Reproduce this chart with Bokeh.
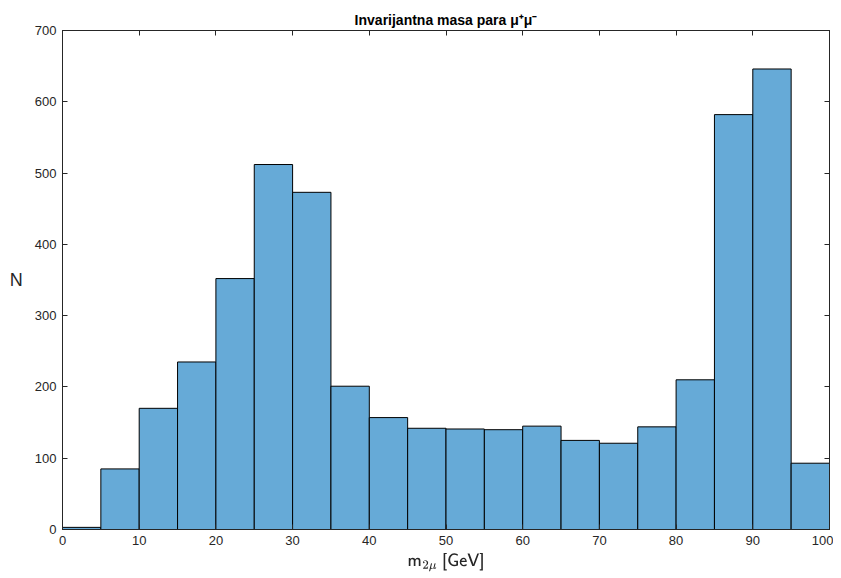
from bokeh.plotting import figure
from bokeh.models import Range1d, LinearAxis, FixedTicker, TeX
from bokeh.embed import file_html
from bokeh.resources import INLINE

bin_edges = list(range(0, 105, 5))
counts = [3, 85, 170, 235, 352, 512, 473, 201, 157, 142, 141, 140, 145, 125, 121, 144, 210, 582, 646, 93]
x_ticks = list(range(0, 110, 10))
y_ticks = list(range(0, 800, 100))

AX = "#262626"
FONT = "Liberation Sans"

p = figure(frame_width=767, frame_height=499, output_backend="svg", toolbar_location=None,
           x_range=Range1d(0, 100), y_range=Range1d(0, 700),
           min_border_left=62, min_border_right=4, min_border_top=30, min_border_bottom=41,
           x_axis_location=None, y_axis_location=None)

p.quad(left=bin_edges[:-1], right=bin_edges[1:], bottom=0, top=counts,
       fill_color="#66AAD7", line_color="black", line_width=1)

p.grid.visible = False
p.outline_line_color = AX
p.outline_line_width = 1

def mk_axis(ticks, show_labels):
    a = LinearAxis(ticker=FixedTicker(ticks=ticks))
    a.major_tick_in = 5
    a.major_tick_out = 0
    a.minor_tick_line_color = None
    a.axis_line_color = AX
    a.major_tick_line_color = AX
    a.major_label_text_color = AX
    a.major_label_text_font = FONT
    a.major_label_text_font_size = "13px"
    a.axis_label_text_font = FONT
    a.axis_label_text_font_style = "normal"
    a.axis_label_text_color = AX
    if not show_labels:
        a.major_label_text_font_size = "0px"
        a.major_label_text_alpha = 0
        a.major_label_standoff = 0
    return a

xb = mk_axis(x_ticks, True)
xb.axis_label = TeX(text=r"\mathsf{m}_{2\mu}\ \mathsf{[GeV]}")
xb.axis_label_text_font_size = "14px"
xb.axis_label_standoff = 5
xb.major_label_standoff = 6
p.add_layout(xb, "below")

yl = mk_axis(y_ticks, True)
yl.axis_label = "N"
yl.axis_label_orientation = "horizontal"
yl.axis_label_text_font_size = "18px"
yl.major_label_standoff = 6
yl.axis_label_standoff = 9
p.add_layout(yl, "left")

xt = mk_axis(x_ticks, False)
p.add_layout(xt, "above")
yr = mk_axis(y_ticks, False)
p.add_layout(yr, "right")

p.title.text = "Invarijantna masa para μ⁺μ⁻"
p.title.align = "center"
p.title.text_font = FONT
p.title.text_font_size = "14px"
p.title.text_font_style = "bold"
p.title.text_color = "black"
p.title.standoff = 6

open("out.html", "w").write(file_html(p, INLINE))
